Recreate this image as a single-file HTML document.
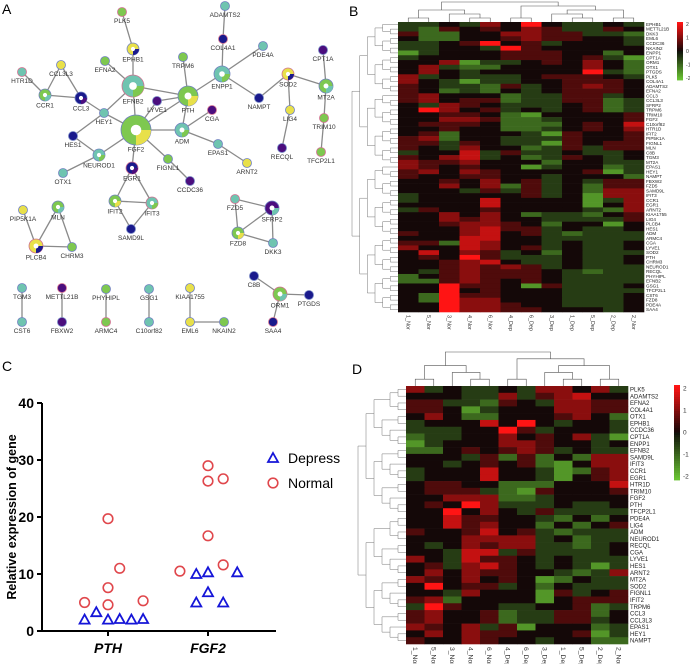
<!DOCTYPE html>
<html><head><meta charset="utf-8"><style>
html,body{margin:0;padding:0;background:#fff;}
svg{display:block;font-family:"Liberation Sans",sans-serif;}
</style></head><body>
<svg id="fig" width="690" height="664" viewBox="0 0 690 664">
<g id="panelA"></g>
<g id="panelB"></g>
<g id="panelC"></g>
<g id="panelD"></g>
<text x="2" y="14" font-size="14">A</text>
<text x="349" y="16" font-size="14">B</text>
<text x="2" y="371" font-size="14">C</text>
<text x="352" y="374" font-size="14">D</text>
</svg>
<script>
const NS="http://www.w3.org/2000/svg";
function mk(tag,attrs,parent,txt){const e=document.createElementNS(NS,tag);for(const k in attrs)e.setAttribute(k,attrs[k]);if(txt!==undefined)e.textContent=txt;parent.appendChild(e);return e;}

/* ---------- Panel C data ---------- */
const cCategories=["PTH","FGF2"];
const depressPTH=[2,3.3,2,2.1,2,2.1];
const normalPTH=[5,19.7,7.6,4.6,11,5.3];
const depressFGF2=[10,10.3,10.3,5,6.8,5];
const normalFGF2=[10.5,29,26.3,26.7,16.7,11.6];
const depressJitterPTH=[-2,-1,0,1,2,3];
const normalJitterPTH=[-2,0,0,0,1,3];
const depressJitterFGF2=[-1,0,2.5,-1,0,1.3];
const normalJitterFGF2=[-2.4,0,0,1.3,0,1.3];
const yTicks=[0,10,20,30,40];

/* ---------- Heatmap B data (0=green,4=black,8=red) ---------- */
const colsB=["1_Nor","5_Nor","3_Nor","4_Nor","6_Nor","4_Dep","6_Dep","3_Dep","1_Dep","5_Dep","2_Dep","2_Nor"];
const genesB=["EPHB1","METTL21B","DKK3","EML6","CCDC36","NKAIN2","ENPP1","CPT1A","ORM1","OTX1","PTGDS","PLK5","COL4A1","ADAMTS2","EFNA2","CCL3","CCL3L3","SFRP2","TRPM6","TRIM10","FGF2","C10orf82","HTR1D","IFIT2","PIP5K1A","FIGNL1","MLN","C8B","TGM3","MT2A","EPAS1","HEY1","NAMPT","FBXW2","FZD5","SAMD9L","IFIT3","CCR1","EGR1","ARNT2","KIAA1755","LIG4","PLCB4","HES1","ADM","ARMC4","CGA","LYVE1","SOD2","PTH","CHRM3","NEUROD1","RECQL","PHYHIPL","EFNB2","GSG1","TFCP2L1","CST6","FZD8","PDE4A","SAA4"];
const valuesB=["334364843343","325454653354","522446655332","422445655443","334584534443","334438544444","134445554424","344445554531","446133454642","463224444642","464344444832","634333455543","643133445554","543325345654","542324345554","564442335534","564552335523","436543334523","486453434523","445542144445","446652234445","455542224547","445442234546","452444315445","562443335445","553543315455","543644235355","344735334334","546734235434","655644424433","654544134423","564654444513","544554434442","445464534355","446462534255","444353534266","344444534166","344474444136","444474444146","354454444326","446464233245","446564433335","445665424414","444675534334","544674532333","444774433333","552764434334","644764534334","474653424333","454853334334","445674334334","445656534333","435655543233","245655543333","225654543333","448554153334","448454443333","428554443334","428664443334","448665443334","448665544434"];

/* ---------- Heatmap D data ---------- */
const colsD=["1_Nor","5_Nor","3_Nor","4_Nor","6_Nor","4_Dep","6_Dep","3_Dep","1_Dep","5_Dep","2_Dep","2_Nor"];
const genesD=["PLK5","ADAMTS2","EFNA2","COL4A1","OTX1","EPHB1","CCDC36","CPT1A","ENPP1","EFNB2","SAMD9L","IFIT3","CCR1","EGR1","HTR1D","TRIM10","FGF2","PTH","TFCP2L1","PDE4A","LIG4","ADM","NEUROD1","RECQL","CGA","LYVE1","HES1","ARNT2","MT2A","SOD2","FIGNL1","IFIT2","TRPM6","CCL3","CCL3L3","EPAS1","HEY1","NAMPT"];
const valuesD=["634334366463","444336356744","553325436655","554134446655","464224445642","344474843443","333448534443","233446454631","134446654434","224545653433","444352524266","443454521466","344474431256","344474431456","455442224447","455532154445","446662234444","454863334334","448464353333","447554432424","447564424245","544574532333","444666634233","434656633234","443773533334","643755434333","453675434313","464655443236","654645412433","484553424333","443644415345","562444414555","385443344523","564452335524","564452335534","654635144423","464655444513","544654434422"];

const colorbarTicks=[2,1,0,-1,-2];

function heatColor(d){
  const v=(d-4)/4;
  if(v>=0){const t=v;return `rgb(${Math.round(20+235*t)},${Math.round(8*(1-t)+20*t)},${Math.round(8*(1-t)+20*t)})`;}
  const t=-v;return `rgb(${Math.round(15+90*t)},${Math.round(15+180*t)},${Math.round(10+40*t)})`;
}

function drawColTree(g,tree,xc,yBase,yTop){
  function depth(n){return Array.isArray(n)?1+Math.max(depth(n[0]),depth(n[1])):0;}
  const D=depth(tree);const step=(yBase-yTop)/D;
  function rec(n){
    if(!Array.isArray(n))return {x:xc(n),y:yBase};
    const a=rec(n[0]),b=rec(n[1]);const y=yBase-depth(n)*step;
    const p=mk('path',{d:`M${a.x},${a.y}V${y}H${b.x}V${b.y}`,fill:'none',stroke:'#555','stroke-width':0.6},g);
    
    
    return {x:(a.x+b.x)/2,y:y};
  }
  rec(tree);
}
function drawRowTree(g,n,yc,xBase,xLeft){
  function build(lo,hi){if(hi-lo===1)return lo;if(hi-lo===2)return[lo,lo+1];const m=Math.floor((lo+hi)/2);return[build(lo,m),build(m,hi)];}
  const tree=build(0,n);
  function depth(t){return Array.isArray(t)?1+Math.max(depth(t[0]),depth(t[1])):0;}
  const D=depth(tree);const step=(xBase-xLeft)/D;
  function rec(t){
    if(!Array.isArray(t))return {x:xBase,y:yc(t)};
    const a=rec(t[0]),b=rec(t[1]);const x=xBase-depth(t)*step;
    const p=mk('path',{d:`M${a.x},${a.y}H${x}V${b.y}H${b.x}`,fill:'none',stroke:'#777','stroke-width':0.5},g);
    
    
    return {x:x,y:(a.y+b.y)/2};
  }
  rec(tree);
}

function drawHeatmap(g,cols,genes,vals,box,fs,cb,colTree){
  const cw=(box.x1-box.x0)/cols.length, rh=(box.y1-box.y0)/genes.length;
  const xc=i=>box.x0+cw*(i+0.5), ry=i=>box.y0+rh*i;
  vals.forEach((row,ri)=>{
    for(let ci=0;ci<cols.length;ci++){
      const r=mk('rect',{x:box.x0+cw*ci,y:ry(ri),width:cw+0.3,height:rh+0.3,fill:heatColor(+row[ci])},g);
      
      
    }
  });
  genes.forEach((gn,ri)=>{
    const t=mk('text',{x:box.x1+2,y:ry(ri)+rh*0.5+fs*0.35,'font-size':fs,fill:'#222'},g,gn);
    
    
  });
  cols.forEach((c,ci)=>{
    const t=mk('text',{x:0,y:0,'font-size':fs+0.8,fill:'#333',transform:`translate(${xc(ci)-fs*0.35},${box.y1+3}) rotate(90)`},g,c);
    
    
  });
  drawColTree(g,colTree,xc,box.y0,box.y0-box.treeH);
  drawRowTree(g,genes.length,i=>ry(i)+rh/2,box.x0,box.x0-box.rowTreeW);
  const steps=40;
  for(let i=0;i<steps;i++){
    const d=8-8*i/(steps-1);
    const r=mk('rect',{x:cb.x,y:cb.y0+(cb.y1-cb.y0)*i/steps,width:cb.w,height:(cb.y1-cb.y0)/steps+0.4,fill:heatColor(d)},g);
    
    
  }
  colorbarTicks.forEach(v=>{
    const y=cb.y0+(cb.y1-cb.y0)*(2-v)/4*0.93+(cb.y1-cb.y0)*0.035;
    const t=mk('text',{x:cb.x+cb.w+3,y:y+2,'font-size':fs+0.5,fill:'#333'},g,String(v));
    
    
  });
}
const colTreeShape=[[[0,1],[2,[3,4]]],[[5,6],[[7,[8,9]],[10,11]]]];
drawHeatmap(document.getElementById('panelB'),colsB,genesB,valuesB,{x0:398,x1:644,y0:22,y1:312,treeH:20,rowTreeW:46},4.6,{x:677,w:6,y0:22,y1:80},colTreeShape);
drawHeatmap(document.getElementById('panelD'),colsD,genesD,valuesD,{x0:406,x1:628,y0:386,y1:644,treeH:34,rowTreeW:48},6,{x:674,w:6,y0:385,y1:480},colTreeShape);

/* ---------- Panel C ---------- */
(function(){
  const g=document.getElementById('panelC');
  const X0=42,Y0=631,YT=403,XE=276;
  const yS=v=>Y0-(Y0-YT)*v/40;
  const catX=[108,208];
  const jit=11.7;
  mk('line',{x1:X0,y1:Y0,x2:X0,y2:YT,stroke:'#000','stroke-width':2},g);
  mk('line',{x1:X0-1,y1:Y0,x2:XE,y2:Y0,stroke:'#000','stroke-width':2},g);
  yTicks.forEach(v=>{
    const l=mk('line',{x1:X0-5,y1:yS(v),x2:X0,y2:yS(v),stroke:'#000','stroke-width':2},g);
    
    
    const t=mk('text',{x:X0-8,y:yS(v)+5,'font-size':14,'font-weight':'bold','text-anchor':'end'},g,String(v));
    
    
  });
  cCategories.forEach((c,i)=>{
    const l=mk('line',{x1:catX[i],y1:Y0,x2:catX[i],y2:Y0+5,stroke:'#000','stroke-width':2},g);
    
    
    const t=mk('text',{x:catX[i],y:Y0+22,'font-size':14,'font-weight':'bold','font-style':'italic','text-anchor':'middle'},g,c);
    
    
  });
  const yt=mk('text',{x:0,y:0,'font-size':12.5,'font-weight':'bold','text-anchor':'middle',transform:`translate(16,${(Y0+YT)/2}) rotate(-90)`},g,'Relative expression of gene');
  
  function tri(x,y){return `M${x},${y-5} L${x+5},${y+4} L${x-5},${y+4} Z`;}
  function drawSet(vals,jitter,ci,kind){
    vals.forEach((v,k)=>{
      const x=catX[ci]+jitter[k]*jit,y=yS(v);
      let e;
      if(kind==='d'){e=mk('path',{d:tri(x,y),fill:'none',stroke:'#1515d8','stroke-width':1.8},g);
        }
      else{e=mk('circle',{cx:x,cy:y,r:4.8,fill:'none',stroke:'#e0474c','stroke-width':1.6},g);
        }
      
    });
  }
  drawSet(normalPTH,normalJitterPTH,0,'n');
  drawSet(depressPTH,depressJitterPTH,0,'d');
  drawSet(normalFGF2,normalJitterFGF2,1,'n');
  drawSet(depressFGF2,depressJitterFGF2,1,'d');
  const l1=mk('path',{d:tri(273,458),fill:'none',stroke:'#1515d8','stroke-width':1.8},g);
  
  const t1=mk('text',{x:288,y:463,'font-size':14},g,'Depress');
  
  const l2=mk('circle',{cx:273,cy:483,r:4.8,fill:'none',stroke:'#e0474c','stroke-width':1.6},g);
  
  const t2=mk('text',{x:288,y:488,'font-size':14},g,'Normal');
  
})();

/* ---------- Panel A network ---------- */
const nodeNames=["PLK5","ADAMTS2","EPHB1","EFNA2","COL4A1","PDE4A","CPT1A","TRPM6","HTR1D","CCL3L3","CCR1","CCL3","EFNB2","LYVE1","PTH","ENPP1","SOD2","MT2A","NAMPT","HEY1","CGA","FGF2","ADM","LIG4","TRIM10","HES1","EPAS1","RECQL","TFCP2L1","NEUROD1","ARNT2","FIGNL1","EGR1","OTX1","CCDC36","IFIT2","IFIT3","PIP5K1A","MLN","SAMD9L","FZD5","SFRP2","FZD8","DKK3","PLCB4","CHRM3","C8B","TGM3","METTL21B","PHYHIPL","GSG1","KIAA1755","ORM1","PTGDS","CST6","FBXW2","ARMC4","C10orf82","EML6","NKAIN2","SAA4"];
(function(){
  const g=document.getElementById('panelA');
  const pos={PLK5:[122,12],ADAMTS2:[225,6],EPHB1:[133,49],EFNA2:[105,61],COL4A1:[223,39],PDE4A:[263,46],CPT1A:[323,50],TRPM6:[183,57],HTR1D:[22,72],CCL3L3:[61,65],CCR1:[45,95],CCL3:[81,98],EFNB2:[133,86],LYVE1:[157,101],PTH:[188,96],ENPP1:[222,74],SOD2:[288,74],MT2A:[326,86],NAMPT:[259,98],HEY1:[104,113],CGA:[212,110],FGF2:[136,130],ADM:[182,130],LIG4:[290,110],TRIM10:[324,118],HES1:[73,136],EPAS1:[218,144],RECQL:[282,148],TFCP2L1:[321,152],NEUROD1:[99,155],ARNT2:[247,163],FIGNL1:[168,159],EGR1:[132,168],OTX1:[63,173],CCDC36:[190,181],IFIT2:[115,201],IFIT3:[152,203],PIP5K1A:[23,210],MLN:[58,207],SAMD9L:[131,229],FZD5:[235,199],SFRP2:[272,208],FZD8:[238,233],DKK3:[273,243],PLCB4:[36,246],CHRM3:[72,247],C8B:[254,276],TGM3:[22,288],METTL21B:[62,288],PHYHIPL:[106,289],GSG1:[149,289],KIAA1755:[190,288],ORM1:[280,294],PTGDS:[309,295],CST6:[22,322],FBXW2:[62,322],ARMC4:[106,322],C10orf82:[149,322],EML6:[190,322],NKAIN2:[224,322],SAA4:[273,322]};
  const rad={FGF2:15,EFNB2:11,PTH:10,ENPP1:8,ADM:7,MT2A:7,SFRP2:7,PLCB4:7,ORM1:7,EPHB1:6,CCR1:6,CCL3:6,SOD2:6,NEUROD1:6,EGR1:6,IFIT2:6,IFIT3:6,MLN:6,FZD8:6};
  const edges=[["PLK5","EPHB1"],["EPHB1","EFNB2"],["EFNA2","EFNB2"],["EFNB2","FGF2"],["EFNB2","PTH"],["EFNB2","HEY1"],["ADAMTS2","COL4A1"],["COL4A1","ENPP1"],["ENPP1","PDE4A"],["ENPP1","NAMPT"],["ENPP1","PTH"],["NAMPT","SOD2"],["SOD2","MT2A"],["SOD2","LIG4"],["LIG4","RECQL"],["CPT1A","MT2A"],["MT2A","TRIM10"],["TRIM10","TFCP2L1"],["TRPM6","PTH"],["PTH","ADM"],["PTH","FGF2"],["PTH","LYVE1"],["ADM","CGA"],["ADM","FGF2"],["ADM","EPAS1"],["EPAS1","ARNT2"],["HTR1D","CCR1"],["CCR1","CCL3"],["CCL3","CCL3L3"],["CCL3L3","CCR1"],["CCL3","HEY1"],["HEY1","FGF2"],["HEY1","HES1"],["HES1","NEUROD1"],["NEUROD1","FGF2"],["NEUROD1","OTX1"],["FGF2","EGR1"],["FGF2","FIGNL1"],["FGF2","LYVE1"],["FIGNL1","CCDC36"],["EGR1","IFIT2"],["EGR1","IFIT3"],["IFIT2","IFIT3"],["IFIT2","SAMD9L"],["IFIT3","SAMD9L"],["PIP5K1A","PLCB4"],["MLN","PLCB4"],["MLN","CHRM3"],["PLCB4","CHRM3"],["FZD5","SFRP2"],["FZD5","FZD8"],["SFRP2","FZD8"],["SFRP2","DKK3"],["FZD8","DKK3"],["C8B","ORM1"],["ORM1","PTGDS"],["ORM1","SAA4"],["TGM3","CST6"],["METTL21B","FBXW2"],["PHYHIPL","ARMC4"],["GSG1","C10orf82"],["KIAA1755","EML6"],["EML6","NKAIN2"]];
  edges.forEach(([a,b])=>{
    const e=mk('line',{x1:pos[a][0],y1:pos[a][1],x2:pos[b][0],y2:pos[b][1],stroke:'#8a8a8a','stroke-width':1.3},g);
    
    
  });
  const palette=['#7ec850','#6fc4b0','#e8e04a','#7ec850','#1a1a8c','#6fc4b0','#4b0e7e'];
  nodeNames.forEach((n,i)=>{
    const [x,y]=pos[n];const r=rad[n]||4.5;
    const c=mk('circle',{cx:x,cy:y,r:r,fill:palette[i%palette.length],stroke:(i%4===0?'#d07090':'#7080c0'),'stroke-width':0.8},g);
    
    
    if(r>=6){const h=mk('path',{d:`M${x},${y} L${x+r},${y} A${r},${r} 0 0 1 ${x},${y+r} Z`,fill:palette[(i+2)%palette.length]},g);
      
      const w=mk('circle',{cx:x,cy:y,r:r*0.35,fill:'#fff'},g);
      }
    const t=mk('text',{x:x,y:y+r+6.5,'font-size':6.5,'text-anchor':'middle',fill:'#333'},g,n);
    
    
  });
})();
</script>
</body></html>
